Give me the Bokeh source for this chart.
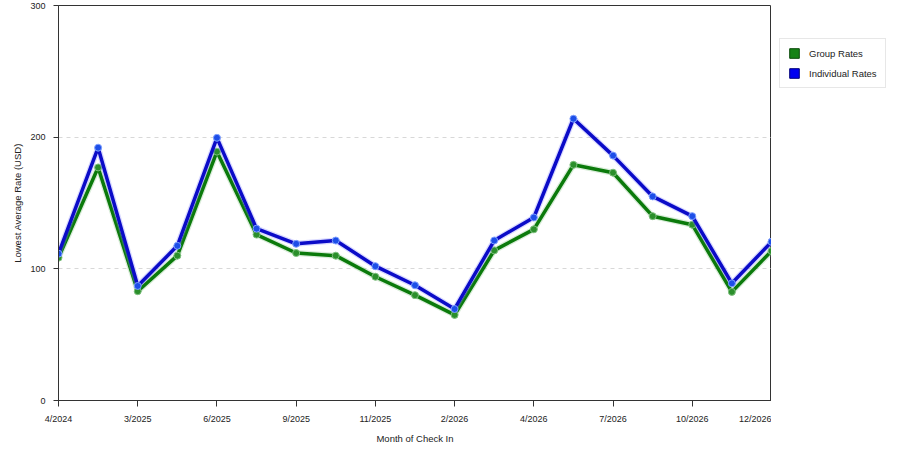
from bokeh.plotting import figure
from bokeh.models import (ColumnDataSource, FixedTicker, Legend, LegendItem,
                          SingleIntervalTicker)
from bokeh.layouts import row
from bokeh.embed import file_html
from bokeh.resources import INLINE

# 19 check-in months, labelled on every other point
tick_labels = ["4/2024", "3/2025", "6/2025", "9/2025", "11/2025",
               "2/2026", "4/2026", "7/2026", "10/2026", "12/2026"]
month_index = list(range(19))

group_rates = [108.5, 177, 83, 110, 189, 126, 112, 110, 94, 80,
               65, 114, 130, 179, 173, 140, 133.5, 82.5, 113.5]
individual_rates = [111.5, 192, 87, 117.5, 199.5, 130.5, 119, 121.5, 102, 87.5,
                    69.5, 121.5, 139, 214, 186, 155, 140, 89, 120.5]

GREEN = "#0b7a0b"
BLUE = "#0b0bc8"
FONT = "Liberation Sans"

src = ColumnDataSource(dict(x=month_index, g=group_rates, b=individual_rates))

p = figure(width=771, height=448, x_range=(0, 18), y_range=(0, 300),
           output_backend="svg", toolbar_location=None,
           min_border_left=58, min_border_right=0,
           min_border_top=5, min_border_bottom=48)
p.outline_line_color = "#333333"
p.outline_line_width = 1
p.background_fill_color = "white"

# group series
p.line("x", "g", source=src, line_color="#7fbf7f", line_width=6, line_alpha=0.3)
p.line("x", "g", source=src, line_color=GREEN, line_width=3.5)
p.scatter("x", "g", source=src, size=7, fill_color="#2b8f2b",
          line_color="#7fc07f", line_width=1)

# individual series
p.line("x", "b", source=src, line_color="#8080ff", line_width=6, line_alpha=0.3)
p.line("x", "b", source=src, line_color=BLUE, line_width=3.5)
p.scatter("x", "b", source=src, size=7, fill_color="#1d4ee8",
          line_color="#7fa0ff", line_width=1)

# axes
p.xaxis.ticker = FixedTicker(ticks=month_index[::2])
p.xaxis.major_label_overrides = {i: lab for i, lab in zip(month_index[::2], tick_labels)}
p.yaxis.ticker = SingleIntervalTicker(interval=100)
for ax in (p.xaxis, p.yaxis):
    ax.axis_line_color = "#333333"
    ax.major_tick_line_color = "#333333"
    ax.major_tick_in = 0
    ax.minor_tick_line_color = None
    ax.major_label_text_font = FONT
    ax.major_label_text_font_size = "9px"
    ax.major_label_text_color = "#222222"
    ax.axis_label_text_font = FONT
    ax.axis_label_text_font_size = "9.5px"
    ax.axis_label_text_font_style = "normal"
    ax.axis_label_text_color = "#222222"
p.xaxis.major_tick_out = 6
p.yaxis.major_tick_out = 5
p.xaxis.major_label_standoff = 7
p.yaxis.major_label_standoff = 8
p.xaxis.axis_label = "Month of Check In"
p.yaxis.axis_label = "Lowest Average Rate (USD)"
p.xaxis.axis_label_standoff = 6
p.yaxis.axis_label_standoff = 4

p.xgrid.grid_line_color = None
p.ygrid.grid_line_color = "#d8d8d8"
p.ygrid.grid_line_dash = "4 4"
p.ygrid.grid_line_width = 1

# legend lives in a narrow side figure next to the chart
side = figure(width=129, height=448, x_range=(0, 1), y_range=(0, 1),
              output_backend="svg", toolbar_location=None, min_border=0)
side.axis.visible = False
side.grid.grid_line_color = None
side.outline_line_color = None

sw_g = side.vbar(x="x", top="g", source=src, width=0.5, fill_color="#168216",
                 line_color="#0a4a0a", visible=False)
sw_b = side.vbar(x="x", top="b", source=src, width=0.5, fill_color="#0000f0",
                 line_color="#00007a", visible=False)

legend = Legend(items=[LegendItem(label="Group Rates", renderers=[sw_g]),
                       LegendItem(label="Individual Rates", renderers=[sw_b])],
                location=(8, 312))
legend.glyph_width = 12
legend.glyph_height = 12
legend.label_height = 12
legend.label_standoff = 9
legend.spacing = 8
legend.padding = 8
legend.margin = 0
legend.inactive_fill_alpha = 0
legend.label_text_font = FONT
legend.label_text_font_size = "9.5px"
legend.label_text_color = "#222222"
legend.border_line_color = "#d0d0d0"
legend.background_fill_color = "white"
side.add_layout(legend, "center")

layout = row(p, side)
open("out.html", "w").write(file_html(layout, INLINE))
